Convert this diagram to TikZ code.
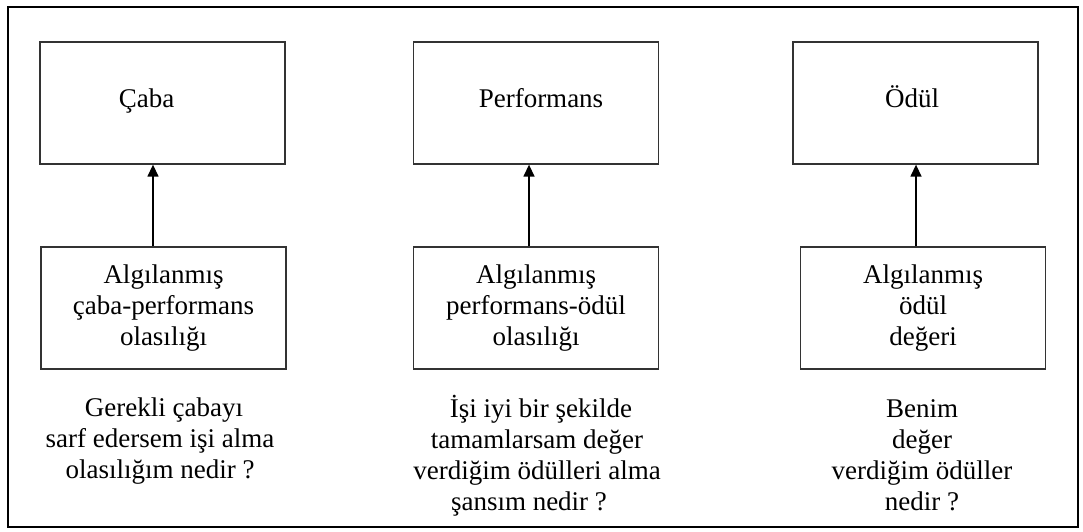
\documentclass[tikz,border=0pt]{standalone}
\usepackage{fontspec}
\setmainfont{Liberation Serif}
\usetikzlibrary{arrows.meta}
\begin{document}
\begin{tikzpicture}[x=1pt,y=-1pt,
  every node/.style={font=\fontsize{27pt}{31pt}\selectfont, text=black},
  box/.style={draw=black!80, line width=1.3pt, minimum width=245pt,
    minimum height=122pt, inner sep=0pt, align=center},
  headbox/.style={box, text height=18pt, text depth=9pt},
  question/.style={align=center, inner sep=0pt, anchor=north},
  arr/.style={line width=1.4pt, -{Triangle[length=12pt,width=11pt]}}]
\useasboundingbox (0,0) rectangle (1083,531);
% outer frame
\draw[line width=2pt] (8,7) rectangle (1078,527);

% top row
\node[headbox] (caba) at (162.5,103) {\hspace*{-32pt}Çaba};
\node[headbox] (perf) at (536,103) {\hspace*{10pt}Performans};
\node[headbox] (odul) at (915.5,103) {\hspace*{-7pt}Ödül};

% perceived values
\node[box] (p1) at (163.5,308) {Algılanmış\\çaba-performans\\olasılığı};
\node[box] (p2) at (536,308) {Algılanmış\\performans-ödül\\olasılığı};
\node[box] (p3) at (923,308) {Algılanmış\\ödül\\değeri};

% arrows
\draw[arr] ([xshift=-10.5pt]p1.north) -- ([xshift=-10.5pt]p1.north |- caba.south);
\draw[arr] ([xshift=-7pt]p2.north) -- ([xshift=-7pt]p2.north |- perf.south);
\draw[arr] ([xshift=-7pt]p3.north) -- ([xshift=-7pt]p3.north |- odul.south);

% questions
\node[question] (q1) at (160,392)
  {\rule{0pt}{24pt}\hspace*{8pt}Gerekli çabayı\\sarf edersem işi alma\\olasılığım nedir ?};
\node[question] (q2) at (537,393)
  {\rule{0pt}{24pt}\hspace*{8pt}İşi iyi bir şekilde\\tamamlarsam değer\\verdiğim ödülleri alma\\şansım nedir ?\hspace*{16pt}};
\node[question] (q3) at (922,393)
  {\rule{0pt}{24pt}Benim\\değer\\verdiğim ödüller\\nedir ?};
\end{tikzpicture}
\end{document}
